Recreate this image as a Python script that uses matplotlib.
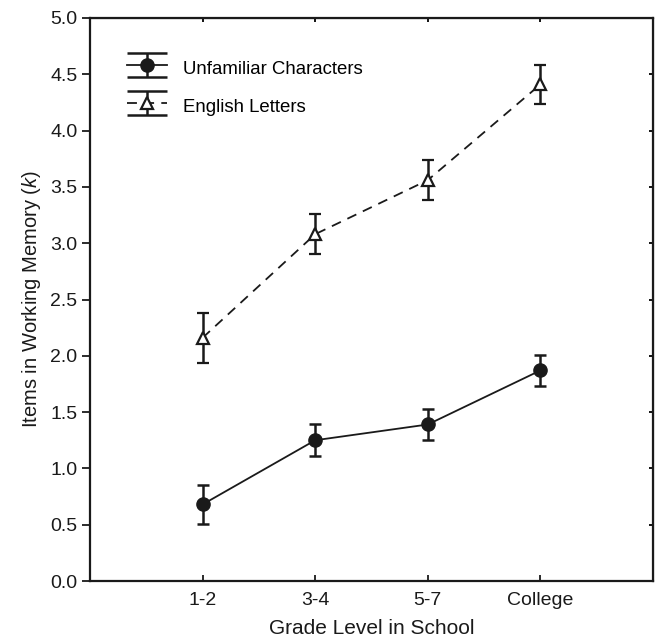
import numpy as np
import matplotlib
matplotlib.use("Agg")
import matplotlib.pyplot as plt
from matplotlib.legend_handler import HandlerErrorbar
from matplotlib.lines import Line2D

plt.rcParams['font.family'] = ['Liberation Sans', 'DejaVu Sans']
plt.rcParams['mathtext.fontset'] = 'custom'
plt.rcParams['mathtext.it'] = 'Liberation Sans:italic'
plt.rcParams['mathtext.rm'] = 'Liberation Sans'

grades = ["1-2", "3-4", "5-7", "College"]
unfamiliar = [0.68, 1.25, 1.39, 1.87]
unfamiliar_err = [0.17, 0.14, 0.135, 0.135]
english = [2.16, 3.08, 3.56, 4.41]
english_err = [0.22, 0.18, 0.175, 0.17]


class WideCapHandler(HandlerErrorbar):
    # legend caps stretched across the whole handle width
    def create_artists(self, legend, orig_handle, xdescent, ydescent,
                       width, height, fontsize, trans):
        artists = super().create_artists(legend, orig_handle, xdescent, ydescent,
                                         width, height, fontsize, trans)
        for a in artists:
            if isinstance(a, Line2D) and a.get_marker() == '_':
                a.set_markersize(width)
                a.set_markeredgewidth(1.8)
        return artists


fig = plt.figure(figsize=(6.57, 6.38), dpi=100)
ax = fig.add_axes([90 / 657, 1 - 581 / 638, 563 / 657, 563 / 638])

x = np.arange(1, len(grades) + 1)

ax.errorbar(x, unfamiliar, yerr=unfamiliar_err, color='#1a1a1a', lw=1.3,
            marker='o', ms=9.5, mfc='#1a1a1a', mec='#1a1a1a',
            ecolor='#1a1a1a', elinewidth=1.8, capsize=4.3, capthick=1.8,
            label="Unfamiliar Characters")
ax.errorbar(x, english, yerr=english_err, color='#1a1a1a', lw=1.3,
            linestyle=(0, (5.5, 4)), marker='^', ms=9, mfc='white',
            mec='#1a1a1a', mew=1.6,
            ecolor='#1a1a1a', elinewidth=1.8, capsize=4.3, capthick=1.8,
            label="English Letters")

ax.set_xlim(0, 5)
ax.set_ylim(0, 5)
ax.set_xticks(x)
ax.set_xticklabels(grades)
ax.set_yticks(np.arange(0, 5.01, 0.5))
ax.set_yticklabels([f"{v:.1f}" for v in np.arange(0, 5.01, 0.5)])

for s in ax.spines.values():
    s.set_linewidth(1.6)
    s.set_color('#1a1a1a')

ax.tick_params(axis='y', direction='out', length=6, width=1.3,
               labelsize=14, colors='#1a1a1a', pad=3)
ax.tick_params(axis='x', direction='in', length=4, width=1.3,
               labelsize=14, colors='#1a1a1a', pad=8)

# small inward ticks on top and right
top = ax.secondary_xaxis('top')
top.set_xticks(x)
top.tick_params(direction='in', length=3, width=1.3, labeltop=False)
right = ax.secondary_yaxis('right')
right.set_yticks(np.arange(0.5, 5.0, 0.5))
right.tick_params(direction='in', length=3, width=1.3, labelright=False)

ax.set_xlabel("Grade Level in School", fontsize=15, color='#1a1a1a', labelpad=7)
ax.set_ylabel("Items in Working Memory ($k$)", fontsize=14.5, color='#1a1a1a', labelpad=5)

ax.legend(loc='upper left', bbox_to_anchor=(0.0657, 0.9334), frameon=False,
          fontsize=13.4, borderpad=0, borderaxespad=0, handlelength=2.15,
          handleheight=1.6, labelspacing=0.8, handletextpad=0.86,
          handler_map={type(ax.containers[0]): WideCapHandler(yerr_size=0.645)})

fig.savefig("out.png", dpi=100)
